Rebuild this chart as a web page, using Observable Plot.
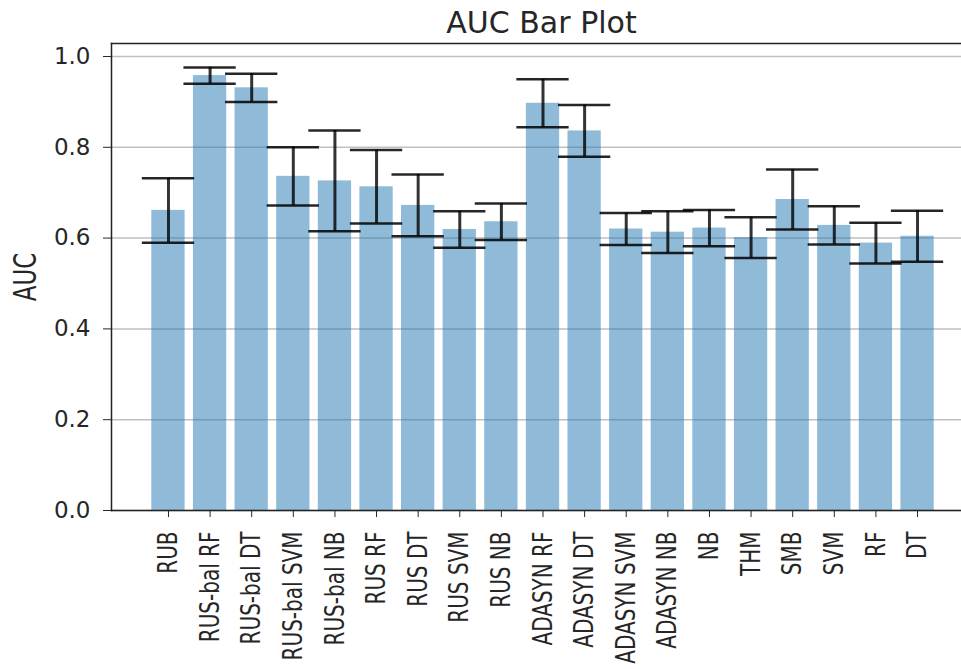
<!DOCTYPE html>
<html>
<head>
<meta charset="utf-8">
<script src="https://cdn.jsdelivr.net/npm/d3@7"></script>
<script src="https://cdn.jsdelivr.net/npm/@observablehq/plot@0.6"></script>
<style>
  html, body { margin: 0; padding: 0; background: white; overflow: hidden; }
  #chart svg { max-width: none !important; display: block; }
</style>
</head>
<body>
<div id="chart"></div>
<script>
const categories = ["RUB", "RUS-bal RF", "RUS-bal DT", "RUS-bal SVM", "RUS-bal NB", "RUS RF", "RUS DT",
  "RUS SVM", "RUS NB", "ADASYN RF", "ADASYN DT", "ADASYN SVM", "ADASYN NB", "NB", "THM", "SMB", "SVM", "RF", "DT"];
const auc = [0.661, 0.958, 0.931, 0.736, 0.726, 0.713, 0.672, 0.619, 0.636, 0.897, 0.836, 0.620, 0.613,
  0.622, 0.601, 0.685, 0.628, 0.589, 0.604];
const err = [0.071, 0.018, 0.031, 0.064, 0.111, 0.081, 0.068, 0.040, 0.040, 0.053, 0.057, 0.035, 0.046,
  0.040, 0.045, 0.066, 0.042, 0.045, 0.056];
const yTicks = [0, 0.2, 0.4, 0.6, 0.8, 1.0];
const title = "AUC Bar Plot";
const yLabel = "AUC";

const data = categories.map((c, i) => ({name: c, auc: auc[i], lo: auc[i] - err[i], hi: auc[i] + err[i]}));

const capStyle = {stroke: "#000", strokeOpacity: 0.85, strokeWidth: 2.5, insetLeft: -9.5, insetRight: -9.5};
const spine = {stroke: "#222", strokeWidth: 1.5};

const plot = Plot.plot({
  width: 961,
  height: 669,
  marginLeft: 111,
  marginRight: 0,
  marginTop: 43,
  marginBottom: 159,
  style: {fontFamily: "DejaVu Sans", background: "white", color: "#262626", maxWidth: "none"},
  x: {domain: categories, range: [143, 942], padding: 0.2, round: false, label: null},
  y: {domain: [0, 1.0286], label: yLabel},
  marks: [
    Plot.gridY(yTicks, {stroke: "#b0b0b0", strokeOpacity: 0.8, strokeWidth: 1.5}),
    Plot.barY(data, {x: "name", y: "auc", fill: "#1f77b4", fillOpacity: 0.5}),
    Plot.ruleX(data, {x: "name", y1: "lo", y2: "hi", stroke: "#000", strokeOpacity: 0.8, strokeWidth: 3}),
    Plot.tickY(data, {x: "name", y: "lo", ...capStyle}),
    Plot.tickY(data, {x: "name", y: "hi", ...capStyle}),
    Plot.frame({anchor: "left", ...spine}),
    Plot.frame({anchor: "top", ...spine}),
    Plot.frame({anchor: "bottom", ...spine}),
    Plot.axisY({ticks: yTicks, tickFormat: d => d.toFixed(1), tickSize: 8, tickPadding: 13, fontSize: 23,
      label: yLabel, labelAnchor: "center", labelArrow: "none", labelOffset: 98}),
    Plot.axisX({tickRotate: -90, tickSize: 7, tickPadding: 14, fontSize: 20, label: null}),
    Plot.text([title], {text: d => d, frameAnchor: "top", lineAnchor: "bottom", dx: 5, dy: -11, fontSize: 30, fill: "#262626"})
  ]
});

document.getElementById("chart").appendChild(plot);

// condensed look of rotated labels, as in the reference
d3.select(plot).selectAll('g[aria-label="x-axis tick label"] text, g[aria-label="y-axis label"] text')
  .each(function() {
    const t = this.getAttribute("transform") || "";
    this.setAttribute("transform", t + " scale(1,1.35)");
  });
</script>
</body>
</html>
